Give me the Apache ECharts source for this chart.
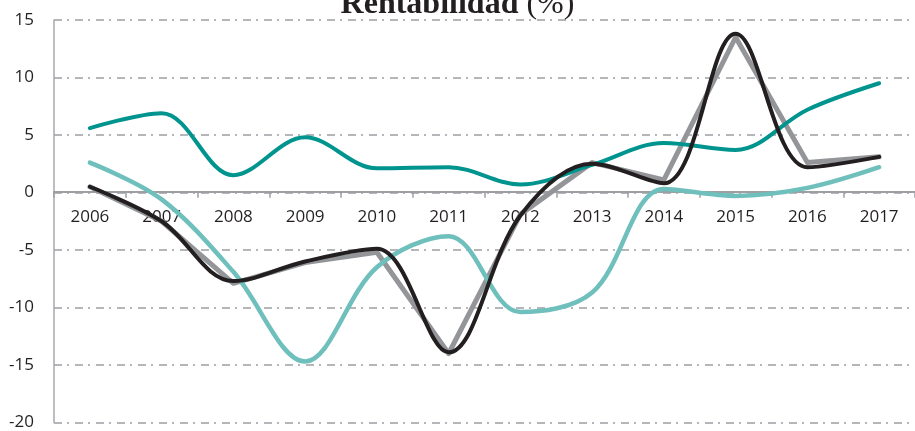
<!DOCTYPE html>
<html>
<head>
<meta charset="utf-8">
<script src="https://cdn.jsdelivr.net/npm/echarts@6/dist/echarts.min.js"></script>
<style>
html, body { margin: 0; padding: 0; background: #fff; }
#chart { width: 915px; height: 431px; }
</style>
</head>
<body>
<div id="chart"></div>
<script>
// categorias y series
var years = ['2006', '2007', '2008', '2009', '2010', '2011', '2012', '2013', '2014', '2015', '2016', '2017'];
var grisVals = [0.5, -2.5, -7.9, -6.1, -5.2, -14.0, -1.9, 2.6, 1.1, 13.5, 2.6, 3.1];
var negroVals = [0.5, -2.5, -7.7, -6.0, -4.9, -13.9, -2.0, 2.5, 0.8, 13.8, 2.2, 3.1];
var verdeVals = [5.6, 6.9, 1.5, 4.8, 2.1, 2.2, 0.7, 2.4, 4.3, 3.7, 7.2, 9.5];
var celesteVals = [2.6, -0.6, -6.9, -14.7, -6.5, -3.8, -10.4, -8.7, 0.3, -0.3, 0.4, 2.2];
var yTicks = { min: -20, max: 15, interval: 5 };

var chart = echarts.init(document.getElementById('chart'));

function serie(data, color, width, smooth, z) {
  return {
    type: 'line',
    data: data,
    smooth: smooth,
    showSymbol: false,
    symbol: 'none',
    z: z,
    lineStyle: { color: color, width: width, cap: 'round', join: 'round' }
  };
}

// el eje x va sobre la linea del cero: se sube desde el borde inferior del grid
var gridTop = 20, gridBottom = 7, chartH = 431;
var plotH = chartH - gridTop - gridBottom;
var zeroOffset = -plotH * (0 - yTicks.min) / (yTicks.max - yTicks.min);

var option = {
  animation: false,
  title: {
    text: '{b|Rentabilidad}{n| (%)}',
    left: 'center',
    top: -16,
    textStyle: {
      rich: {
        b: { fontFamily: 'Liberation Serif', fontWeight: 'bold', fontSize: 32, color: '#231f20' },
        n: { fontFamily: 'Liberation Serif', fontWeight: 'normal', fontSize: 32, color: '#231f20' }
      }
    }
  },
  grid: { left: 54, right: -6, top: gridTop, bottom: gridBottom },
  xAxis: {
    type: 'category',
    data: years,
    boundaryGap: true,
    offset: zeroOffset,
    axisLine: { onZero: false, lineStyle: { color: '#9d9fa2', width: 2 } },
    axisTick: { show: true, length: 6, lineStyle: { color: '#9d9fa2', width: 1.5 } },
    axisLabel: { fontFamily: 'Open Sans', fontSize: 17, color: '#231f20', margin: 17 },
    splitLine: { show: false }
  },
  yAxis: {
    type: 'value',
    min: yTicks.min,
    max: yTicks.max,
    interval: yTicks.interval,
    axisLine: { show: true, lineStyle: { color: '#a7a9ac', width: 1.5 } },
    axisTick: { show: false },
    axisLabel: { fontFamily: 'Open Sans', fontSize: 17, color: '#231f20', margin: 20 },
    splitLine: {
      lineStyle: { color: '#9d9fa2', width: 1.5, type: [8, 5, 2, 6] }
    }
  },
  series: [
    serie(grisVals, '#939598', 5, false, 2),
    serie(celesteVals, '#6fbfbd', 4.5, 0.35, 3),
    serie(verdeVals, '#00948f', 4, 0.35, 4),
    serie(negroVals, '#231f20', 4, 0.35, 5)
  ]
};

chart.setOption(option);
</script>
</body>
</html>
